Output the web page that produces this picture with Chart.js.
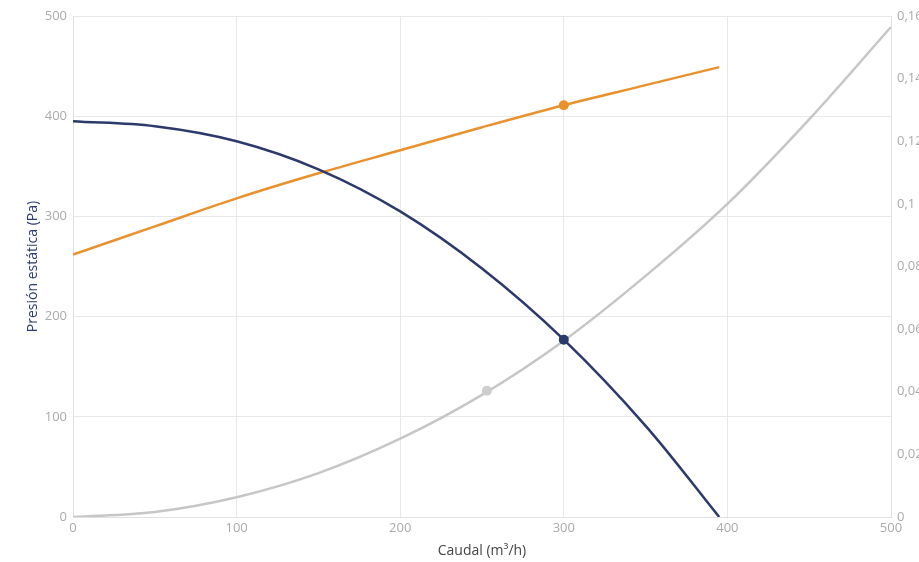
<!DOCTYPE html>
<html>
<head>
<meta charset="utf-8">
<script src="https://cdn.jsdelivr.net/npm/chart.js@4/dist/chart.umd.min.js"></script>
<style>
  html, body { margin: 0; padding: 0; background: #fff; overflow: hidden; }
  #wrap { width: 921px; height: 562px; }
</style>
</head>
<body>
<div id="wrap"><canvas id="curveChart"></canvas></div>
<script>
// caudal (m3/h) y presión estática (Pa)
const caudalVent   = [0, 50, 100, 150, 200, 250, 300, 350, 395];
const presionVent  = [395, 390, 375, 347, 305, 248, 177, 91, 0];
const potenciaVent = [262, 290, 318, 343, 366, 389, 411, 431, 449];

// curva de la instalación (eje derecho)
const caudalInst  = [0, 50, 100, 150, 200, 250, 300, 350, 400, 450, 500];
const perdidaInst = [0, 0.0016, 0.0063, 0.014, 0.025, 0.039, 0.0563, 0.077, 0.1, 0.127, 0.1565];

// puntos de trabajo
const puntoPresion  = [300, 177];
const puntoPotencia = [300, 411];
const puntoInst     = [253, 0.0403];

const NAVY = '#2b3a6b';
const ORANGE = '#e8912d';
const GREY = '#c6c6c6';

const toXY = (xs, ys) => xs.map((x, i) => ({ x, y: ys[i] }));
const fmtComa = v => String(+Number(v).toFixed(2)).replace('.', ',');

const lineBase = { borderWidth: 2.5, pointRadius: 0, fill: false, tension: 0.35 };
const dotBase = { showLine: false, pointRadius: 5, pointHoverRadius: 5, borderWidth: 0 };

new Chart(document.getElementById('curveChart').getContext('2d'), {
  type: 'line',
  data: {
    datasets: [
      { ...dotBase, data: [{ x: puntoPresion[0], y: puntoPresion[1] }], yAxisID: 'y',
        pointBackgroundColor: NAVY, backgroundColor: NAVY },
      { ...dotBase, data: [{ x: puntoPotencia[0], y: puntoPotencia[1] }], yAxisID: 'y',
        pointBackgroundColor: ORANGE, backgroundColor: ORANGE },
      { ...dotBase, data: [{ x: puntoInst[0], y: puntoInst[1] }], yAxisID: 'y1',
        pointBackgroundColor: '#cdcdcd', backgroundColor: '#cdcdcd' },
      { ...lineBase, data: toXY(caudalVent, presionVent), borderColor: NAVY, yAxisID: 'y' },
      { ...lineBase, data: toXY(caudalVent, potenciaVent), borderColor: ORANGE, yAxisID: 'y' },
      { ...lineBase, data: toXY(caudalInst, perdidaInst), borderColor: GREY, yAxisID: 'y1' }
    ]
  },
  options: {
    responsive: true,
    maintainAspectRatio: false,
    animation: false,
    layout: { padding: { top: 16, left: 0, right: 0, bottom: 0 } },
    plugins: { legend: { display: false }, tooltip: { enabled: false } },
    scales: {
      x: {
        type: 'linear', min: 0, max: 500,
        ticks: { stepSize: 100, color: '#aaaaaa', font: { family: 'Open Sans', size: 13 }, padding: 3 },
        grid: { color: '#e8e8e8', drawTicks: false },
        border: { color: '#e0e0e0' },
        title: { display: true, text: 'Caudal (m³/h)', color: '#444', font: { family: 'Open Sans', size: 14 },
                 padding: { top: 0, bottom: 3 } },
        afterFit: s => { s.height = 45; }
      },
      y: {
        position: 'left', min: 0, max: 500,
        ticks: { stepSize: 100, color: '#aaaaaa', font: { family: 'Open Sans', size: 13 }, padding: 6 },
        grid: { color: '#e8e8e8', drawTicks: false },
        border: { color: '#e0e0e0' },
        title: { display: true, text: 'Presión estática (Pa)', color: NAVY, font: { family: 'Open Sans', size: 14 },
                 padding: { top: 25, bottom: 0 } },
        afterFit: s => { s.width = 73; }
      },
      y1: {
        position: 'right', min: 0, max: 0.16,
        ticks: { stepSize: 0.02, color: '#aaaaaa', font: { family: 'Open Sans', size: 13 }, padding: 6, callback: fmtComa },
        grid: { display: false, drawTicks: false },
        border: { color: '#e0e0e0' },
        afterFit: s => { s.width = 30; }
      }
    }
  }
});
</script>
</body>
</html>
